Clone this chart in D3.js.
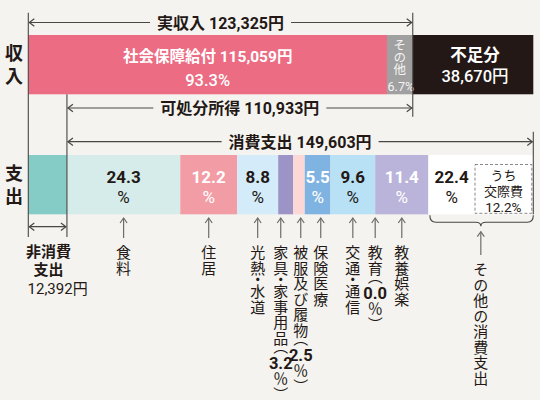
<!DOCTYPE html>
<html>
<head>
<meta charset="utf-8">
<script src="https://cdn.jsdelivr.net/npm/d3@7"></script>
<style>
  html, body { margin: 0; padding: 0; background: #f4f3ef; }
  svg { display: block; font-family: "Noto Sans CJK JP", "Noto Sans", sans-serif; }
  .mt { font-family: Roboto, "Noto Sans CJK JP", sans-serif; }
</style>
</head>
<body>
<div id="chart"></div>
<script>
// ---- data ----
var rowNames = ["収入", "支出"];

var incomeNames = ["社会保障給付", "その他"];
var incomeValues = [115059, 8266];
var actualIncome = 123325;
var deficit = 38670;
var disposableIncome = 110933;

var nonConsumption = 12392;
var consumption = 149603;
var consumptionNames = ["食料", "住居", "光熱・水道", "家具・家事用品", "被服及び履物",
                        "保険医療", "交通・通信", "教育", "教養娯楽", "その他の消費支出"];
var consumptionPct = [24.3, 12.2, 8.8, 3.2, 2.5, 5.5, 9.6, 0.0, 11.4, 22.4];
var socialPct = 12.2; // うち交際費

// ---- styles ----
var consumptionColors = ["#d6ecea", "#f29ca5", "#d4ecf9", "#9c93c6", "#fbd8d6",
                         "#7fb3e1", "#b8e1f6", "#b8e1f6", "#bab4da", "#ffffff"];
var consumptionText = ["#231815", "#ffffff", "#231815", "#231815", "#231815",
                       "#ffffff", "#231815", "#231815", "#ffffff", "#231815"];
var bg = "#f4f3ef";
var ink = "#231815";
var lineCol = "#4a4646";
var arrowCol = "#6f6b6a";

var width = 540, height = 400;
var fmt = d3.format(",");

var svg = d3.select("#chart").append("svg")
    .attr("width", width)
    .attr("height", height);

svg.append("rect").attr("width", width).attr("height", height).attr("fill", bg);

var total = nonConsumption + consumption;   // = 実収入 + 不足分

var x = d3.scaleLinear().domain([0, total]).range([28.3, 533.3]);
var y = d3.scaleBand().domain(rowNames).range([35, 214.3]).paddingInner(0.506);
var bh = y.bandwidth();

// one <text> with several positioned tspans
function mtext(parts, col) {
    var t = svg.append("text")
        .attr("class", "mt")
        .attr("text-anchor", "middle")
        .attr("dominant-baseline", "central")
        .attr("fill", col);
    parts.forEach(function (p) {
        t.append("tspan")
            .attr("x", p.x)
            .attr("y", p.y)
            .attr("font-size", p.size)
            .attr("font-weight", p.weight || 400)
            .text(p.t);
    });
    return t;
}

// vertical run of text, starting at top
function vrun(px, top, str, size, weight, ls, col) {
    return svg.append("text")
        .attr("x", px)
        .attr("y", top)
        .attr("font-size", size)
        .attr("font-weight", weight)
        .attr("fill", col)
        .style("writing-mode", "vertical-rl")
        .style("letter-spacing", ls + "px")
        .style("font-feature-settings", '"vhal" 1')
        .text(str);
}

// row titles
rowNames.forEach(function (r) {
    vrun(14, y(r) + 9, r, 18, 700, 5.5, ink);
});

// ---- income bar ----
var incomeSegs = [];
var acc = 0;
incomeValues.forEach(function (v, i) {
    incomeSegs.push({name: incomeNames[i], v0: acc, v1: acc + v, value: v});
    acc += v;
});
incomeSegs.push({name: "不足分", v0: acc, v1: acc + deficit, value: deficit});

var incomeColors = ["#ec6c83", "#a0a0a0", "#231815"];

svg.selectAll(".inc")
    .data(incomeSegs)
    .enter()
    .append("rect")
    .attr("class", "inc")
    .attr("x", function (d) { return x(d.v0); })
    .attr("y", y("収入"))
    .attr("width", function (d) { return x(d.v1) - x(d.v0); })
    .attr("height", bh)
    .attr("fill", function (d, i) { return incomeColors[i]; });

var s0 = incomeSegs[0], s1 = incomeSegs[1], s2 = incomeSegs[2];
var iy = y("収入");
var c0 = (x(s0.v0) + x(s0.v1)) / 2;
mtext([
    {t: s0.name + " " + fmt(s0.value) + "円", x: c0, y: iy + 22, size: 15.5, weight: 700},
    {t: (s0.value / actualIncome * 100).toFixed(1) + "%", x: c0, y: iy + 45, size: 16.5, weight: 500}
], "#fff");

var gx = (x(s1.v0) + x(s1.v1)) / 2;
vrun(gx, iy + 4, s1.name, 12.5, 400, -0.5, "#f4f4f4");
mtext([{t: (s1.value / actualIncome * 100).toFixed(1) + "%", x: gx + 1, y: iy + 50.5, size: 12.5}], "#f4f4f4");

var c2 = (x(s2.v0) + x(s2.v1)) / 2 + 2;
mtext([
    {t: s2.name, x: c2, y: iy + 20, size: 16.5, weight: 700},
    {t: fmt(s2.value) + "円", x: c2, y: iy + 41, size: 16.5, weight: 500}
], "#fff");

// ---- expenditure bar ----
var ey = y("支出");
var expSegs = [{name: "非消費支出", v0: 0, v1: nonConsumption, color: "#86ccc6"}];
acc = nonConsumption;
consumptionPct.forEach(function (p, i) {
    var v = consumption * p / 100;
    expSegs.push({name: consumptionNames[i], pct: p, v0: acc, v1: acc + v,
                  color: consumptionColors[i], tcol: consumptionText[i], idx: i});
    acc += v;
});
expSegs[expSegs.length - 1].v1 = total;

svg.selectAll(".exp")
    .data(expSegs)
    .enter()
    .append("rect")
    .attr("class", "exp")
    .attr("x", function (d) { return x(d.v0); })
    .attr("y", ey)
    .attr("width", function (d) { return Math.max(0, x(d.v1) - x(d.v0)); })
    .attr("height", bh)
    .attr("fill", function (d) { return d.color; });

var cons = expSegs.slice(1);
var last = cons[cons.length - 1];

// dashed box inside その他
var boxX0 = 475, boxX1 = x(last.v1) - 1.5;
svg.append("rect")
    .attr("x", boxX0)
    .attr("y", ey + 9.5)
    .attr("width", boxX1 - boxX0)
    .attr("height", bh - 10.5)
    .attr("fill", "none")
    .attr("stroke", "#8a8888")
    .attr("stroke-width", 1)
    .attr("stroke-dasharray", "3,2");
var bcx = (boxX0 + boxX1) / 2;
mtext([
    {t: "うち", x: bcx, y: ey + 20, size: 13},
    {t: "交際費", x: bcx, y: ey + 36, size: 13},
    {t: socialPct.toFixed(1) + "%", x: bcx, y: ey + 52, size: 13.5}
], ink);

// in-bar percentages
cons.forEach(function (d) {
    if (d.pct < 5) return;
    var cx = (x(d.v0) + x(d.v1)) / 2;
    if (d === last) cx = (x(d.v0) + boxX0) / 2;
    mtext([
        {t: d.pct.toFixed(1), x: cx, y: ey + 22, size: 17, weight: 700},
        {t: "%", x: cx, y: ey + 42, size: 17}
    ], d.tcol);
});

// ---- lines ----
function vline(px, y1, y2) {
    svg.append("line")
        .attr("x1", px).attr("x2", px)
        .attr("y1", y1).attr("y2", y2)
        .attr("stroke", lineCol)
        .attr("stroke-width", 1.1);
}
vline(x(0), 12.7, 237);
vline(x(actualIncome), 12.7, 116.7);
vline(x(nonConsumption), iy + bh, 237);
vline(x(total), 131.7, ey + bh);

function head(px, py, dir, col) {
    // dir: -1 points left, 1 right, 0 up
    var p;
    if (dir === 0) p = [[px - 3.5, py + 5], [px, py], [px + 3.5, py + 5]];
    else p = [[px - dir * 5, py - 3.8], [px, py], [px - dir * 5, py + 3.8]];
    svg.append("path")
        .attr("d", d3.line()(p))
        .attr("fill", "none")
        .attr("stroke", col)
        .attr("stroke-width", 1.2);
}

function dim(v0, v1, py, txt) {
    var x0 = x(v0) + 1, x1 = x(v1) - 1;
    var t = txt ? mtext([{t: txt, x: (x0 + x1) / 2, y: py, size: 16, weight: 700}], ink) : null;
    var segs = [[x0, x1]];
    if (t) {
        var b = t.node().getBBox();
        segs = [[x0, b.x - 7], [b.x + b.width + 7, x1]];
    }
    segs.forEach(function (s) {
        svg.append("line")
            .attr("x1", s[0]).attr("x2", s[1])
            .attr("y1", py).attr("y2", py)
            .attr("stroke", lineCol)
            .attr("stroke-width", 1.2);
    });
    head(x0, py, -1, lineCol);
    head(x1, py, 1, lineCol);
}
dim(0, actualIncome, 22.5, "実収入 " + fmt(actualIncome) + "円");
dim(nonConsumption, actualIncome, 108, "可処分所得 " + fmt(disposableIncome) + "円");
dim(nonConsumption, total, 141.7, "消費支出 " + fmt(consumption) + "円");
dim(0, nonConsumption, 226.7, null);

// 非消費支出 label
var ncx = (x(0) + x(nonConsumption)) / 2;
mtext([
    {t: "非消費", x: ncx + 1, y: 252, size: 15, weight: 700},
    {t: "支出", x: ncx + 1, y: 270, size: 15, weight: 700},
    {t: fmt(nonConsumption) + "円", x: ncx + 10, y: 288.5, size: 15}
], ink);

// ---- vertical labels under the bar ----
var centers = cons.map(function (d) { return (x(d.v0) + x(d.v1)) / 2; });
var pos = centers.slice(0, centers.length - 1);
for (var it = 0; it < 200; it++) {
    for (var k = 0; k < pos.length - 1; k++) {
        var gap = pos[k + 1] - pos[k];
        if (gap < 20) {
            var dd = (20 - gap) / 2;
            pos[k] -= dd;
            pos[k + 1] += dd;
        }
    }
}
pos.push(centers[centers.length - 1]);

// label with an upright number inside (tate-chu-yoko)
function vlabel(px, top, name, pct) {
    var t1 = vrun(px, top, name + (pct === null ? "" : "（"), 15, 400, 0.5, ink);
    if (pct === null) return;
    var len = t1.node().getComputedTextLength();
    var numAdv = 17;
    mtext([{t: pct.toFixed(1), x: px, y: top + len + numAdv / 2, size: 16.5, weight: 700}], ink);
    vrun(px, top + len + numAdv, "％）", 15, 400, 0.5, ink);
}

function upArrow(px, y1, y2) {
    svg.append("line")
        .attr("x1", px).attr("x2", px)
        .attr("y1", y1).attr("y2", y2)
        .attr("stroke", arrowCol)
        .attr("stroke-width", 1.2);
    head(px, y1, 0, arrowCol);
}

cons.forEach(function (d, i) {
    var px = pos[i];
    var p = d.pct < 5 ? d.pct : null;
    if (d === last) {
        upArrow(px, 231.7, 255);
        vlabel(px, 262, d.name, p);
    } else {
        upArrow(px, 218, 238);
        vlabel(px, 245, d.name, p);
    }
});

// brace under その他
var bx0 = x(last.v0) + 1.5, bx1 = x(last.v1), bm = pos[pos.length - 1];
var by0 = ey + bh + 1, by1 = by0 + 7, bt = by1 + 4;
svg.append("path")
    .attr("d", "M" + bx0 + "," + by0 +
               " Q" + bx0 + "," + by1 + " " + (bx0 + 6) + "," + by1 +
               " L" + (bm - 5) + "," + by1 +
               " Q" + bm + "," + by1 + " " + bm + "," + bt +
               " Q" + bm + "," + by1 + " " + (bm + 5) + "," + by1 +
               " L" + (bx1 - 6) + "," + by1 +
               " Q" + bx1 + "," + by1 + " " + bx1 + "," + by0)
    .attr("fill", "none")
    .attr("stroke", lineCol)
    .attr("stroke-width", 1.1);
</script>
</body>
</html>
